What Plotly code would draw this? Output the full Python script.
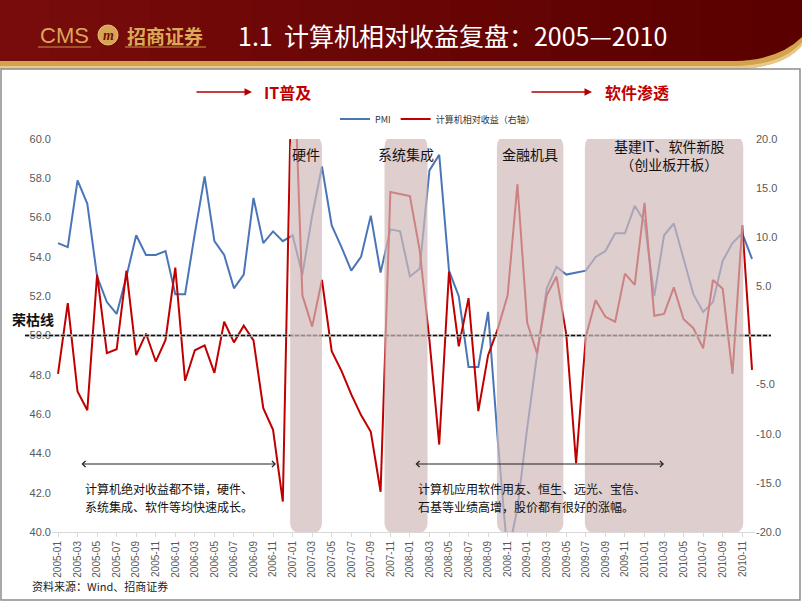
import plotly.graph_objects as go

# ---------------- data ----------------
months = [f"{y}-{m:02d}" for y in range(2005, 2011) for m in range(1, 13)]

pmi = [54.7, 54.5, 57.9, 56.7, 53.0, 51.7, 51.1, 53.0, 55.1, 54.1, 54.1, 54.3,
       52.1, 52.1, 55.2, 58.1, 54.8, 54.1, 52.4, 53.1, 57.0, 54.7, 55.3, 54.8,
       55.1, 53.1, 56.1, 58.6, 55.6, 54.5, 53.3, 54.0, 56.1, 53.2, 55.4, 55.3,
       53.0, 53.4, 58.4, 59.2, 53.3, 52.0, 48.4, 48.4, 51.2, 44.6, 38.8, 41.2,
       45.3, 49.0, 52.4, 53.5, 53.1, 53.2, 53.3, 54.0, 54.3, 55.2, 55.2, 56.6,
       55.8, 52.0, 55.1, 55.7, 53.9, 52.1, 51.2, 51.7, 53.8, 54.7, 55.2, 53.9]

rel_ret = [-3.9, 3.3, -5.7, -7.6, 6.2, -1.8, -1.4, 6.6, -2.0, 0.2, -2.65, -0.45,
           6.9, -4.6, -1.5, -1.0, -3.8, 1.4, -0.7, 1.0, -0.5, -7.4, -9.6, -16.9,
           32.0, 4.1, 0.9, 5.65, -1.6, -3.6, -6.0, -8.1, -9.8, -15.9, 14.6, 14.4,
           14.2, 8.7, -0.5, -11.1, 6.5, -1.1, 3.8, -7.7, -2.0, 0.7, 4.1, 15.4,
           1.3, -1.8, 4.1, 6.0, 0.1, -13.0, -0.1, 3.6, 1.9, 1.4, 6.3, 5.15,
           13.5, 2.0, 2.2, 4.9, 1.65, 0.74, -1.3, 5.65, 4.75, -3.9, 11.25, -3.5]

left_ticks = [40, 42, 44, 46, 48, 50, 52, 54, 56, 58, 60]
right_ticks = [-20, -15, -10, -5, 5, 10, 15, 20]

# shaded phases: (start index, end index, label)
phase_start = [23.75, 33.4, 44.9, 53.9]
phase_end = [27.0, 37.8, 51.7, 70.1]
phase_label = ["硬件", "系统集成", "金融机具", "基建IT、软件新股<br>（创业板开板）"]

note_left = ["计算机绝对收益都不错，硬件、", "系统集成、软件等均快速成长。"]
note_right = ["计算机应用软件用友、恒生、远光、宝信、", "石基等业绩高增，股价都有很好的涨幅。"]

# ---------------- geometry helpers ----------------
W, H = 802, 602
L, R, T, B = 52, 755, 139, 532
PW, PH = R - L, B - T
PXM = 9.775  # pixels per month


def px(X):
    return (X - L) / PW


def py(Y):
    return (B - Y) / PH


x_lo = -(58 - L) / PXM
x_hi = x_lo + PW / PXM
xidx = list(range(len(months)))

fig = go.Figure()
fig.add_trace(go.Scatter(x=xidx, y=pmi, name="PMI", mode="lines",
                         line=dict(color="#4a76b8", width=2)))
fig.add_trace(go.Scatter(x=xidx, y=rel_ret, name="计算机相对收益（右轴）", mode="lines",
                         line=dict(color="#c00000", width=2), yaxis="y2"))

shapes = []
n = 16
for i in range(n):
    t = i / (n - 1)
    r = int(120 - 30 * t)
    g = int(12 - 12 * t)
    shapes.append(dict(type="rect", xref="paper", yref="paper",
                       x0=px(i * W / n), x1=px((i + 1) * W / n + 1),
                       y0=py(0), y1=py(64), fillcolor=f"rgb({r},{g},{g})",
                       line=dict(width=0), layer="below"))


def ppath(pts):
    s = ""
    for c in pts:
        if c[0] == "Z":
            s += "Z"
        elif c[0] == "Q":
            s += f"Q{px(c[1]):.5f},{py(c[2]):.5f} {px(c[3]):.5f},{py(c[4]):.5f} "
        else:
            s += f"{c[0]}{px(c[1]):.5f},{py(c[2]):.5f} "
    return s


shapes.append(dict(type="path", xref="paper", yref="paper", layer="below",
                   path=ppath([("M", 730, 72), ("Q", 785, 66, 803, 44), ("L", 803, 72), ("Z",)]),
                   fillcolor="white", line=dict(width=0)))
shapes.append(dict(type="path", xref="paper", yref="paper", layer="below",
                   path=ppath([("M", -1, 61), ("L", 735, 61), ("Q", 780, 60, 803, 36),
                               ("L", 803, 44), ("Q", 785, 68, 735, 69), ("L", -1, 69), ("Z",)]),
                   fillcolor="#d2a24e", line=dict(width=0)))
shapes.append(dict(type="path", xref="paper", yref="paper", layer="below",
                   path=ppath([("M", -1, 66), ("L", 735, 66), ("Q", 783, 65, 803, 41),
                               ("L", 803, 44), ("Q", 785, 68, 735, 69), ("L", -1, 69), ("Z",)]),
                   fillcolor="#e9c98a", line=dict(width=0)))
shapes.append(dict(type="line", xref="paper", yref="paper", x0=px(38), x1=px(91),
                   y0=py(47), y1=py(47), line=dict(color="#c8964a", width=1)))
shapes.append(dict(type="line", xref="paper", yref="paper", x0=px(125), x1=px(206),
                   y0=py(47), y1=py(47), line=dict(color="#c8964a", width=1)))
shapes.append(dict(type="circle", xref="paper", yref="paper", x0=px(98), x1=px(118),
                   y0=py(25), y1=py(45), fillcolor="#d6a455", line=dict(color="#e8c27a", width=1)))
shapes.append(dict(type="rect", xref="paper", yref="paper", x0=px(1), x1=px(800),
                   y0=py(69), y1=py(600), line=dict(color="#8c8c8c", width=1.5),
                   fillcolor="rgba(0,0,0,0)", layer="below"))
shapes.append(dict(type="line", xref="paper", yref="y", x0=px(25), x1=px(771), y0=50, y1=50,
                   line=dict(color="#bfbfbf", width=2.5), layer="above"))
shapes.append(dict(type="line", xref="paper", yref="y", x0=px(25), x1=px(771), y0=50, y1=50,
                   line=dict(color="#111111", width=1.3, dash="4px,2px"), layer="above"))

for xs, xe in zip(phase_start, phase_end):
    rx, ry = 1.1, 0.55
    yt, yb = 60.15, 39.95
    p = (f"M{xs + rx},{yt} L{xe - rx},{yt} Q{xe},{yt} {xe},{yt - ry} "
         f"L{xe},{yb + ry} Q{xe},{yb} {xe - rx},{yb} L{xs + rx},{yb} "
         f"Q{xs},{yb} {xs},{yb + ry} L{xs},{yt - ry} Q{xs},{yt} {xs + rx},{yt} Z")
    shapes.append(dict(type="path", xref="x", yref="y", path=p, layer="above",
                       fillcolor="rgb(210,185,185)", opacity=0.7, line=dict(width=0)))

cjk = "Noto Sans CJK SC"
ann = []
ann.append(dict(x=px(38), y=py(35), xref="paper", yref="paper", xanchor="left", yanchor="middle",
                text="CMS", showarrow=False, font=dict(family="Liberation Sans", size=22, color="#d9a957")))
ann.append(dict(x=px(108), y=py(35), xref="paper", yref="paper", xanchor="center", yanchor="middle",
                text="<i><b>m</b></i>", showarrow=False, font=dict(family="Liberation Serif", size=14, color="#7a0a0a")))
ann.append(dict(x=px(125), y=py(35), xref="paper", yref="paper", xanchor="left", yanchor="middle",
                text="<b>招商证券</b>", showarrow=False, font=dict(family=cjk, size=19, color="#d9a957")))
ann.append(dict(x=px(236), y=py(35), xref="paper", yref="paper", xanchor="left", yanchor="middle",
                text="1.1  计算机相对收益复盘：2005—2010", showarrow=False,
                font=dict(family=cjk, size=25, color="white")))
for xh, xt, lab, xl in [(252, 195, "IT普及", 262), (592, 530, "软件渗透", 603)]:
    ann.append(dict(x=px(xh), y=py(92), xref="paper", yref="paper", ax=xt - xh, ay=0,
                    text="", showarrow=True, arrowhead=2, arrowsize=1, arrowwidth=1.5,
                    arrowcolor="#b00000"))
    ann.append(dict(x=px(xl), y=py(92), xref="paper", yref="paper", xanchor="left", yanchor="middle",
                    text=f"<b>{lab}</b>", showarrow=False, font=dict(family=cjk, size=16, color="#c00000")))
ann.append(dict(x=px(10), y=py(319), xref="paper", yref="paper", xanchor="left", yanchor="middle",
                text="<b>荣枯线</b>", showarrow=False, font=dict(family=cjk, size=14, color="#111111")))
for xs, xe, lab in zip(phase_start, phase_end, phase_label):
    two = "<br>" in lab
    ann.append(dict(x=(xs + xe) / 2 + (0.6 if two else 0), y=py(155 if two else 154), xref="x", yref="paper",
                    xanchor="center", yanchor="middle", text=lab, showarrow=False,
                    font=dict(family=cjk, size=14, color="#111111")))
for xa, xb in [(80, 276), (414, 664)]:
    ann.append(dict(x=px(xb), y=py(464), xref="paper", yref="paper", ax=xa - xb, ay=0,
                    text="", showarrow=True, arrowhead=4, startarrowhead=4, arrowside="end+start",
                    arrowsize=1, startarrowsize=1, arrowwidth=1.2, arrowcolor="#222222"))
for xl, lines in [(83, note_left), (416, note_right)]:
    for k, line in enumerate(lines):
        ann.append(dict(x=px(xl), y=py(488 + 18 * k), xref="paper", yref="paper", xanchor="left",
                        yanchor="middle", text=line, showarrow=False,
                        font=dict(family=cjk, size=12, color="#111111")))
ann.append(dict(x=px(30), y=py(586), xref="paper", yref="paper", xanchor="left", yanchor="middle",
                text="资料来源：Wind、招商证券", showarrow=False,
                font=dict(family=cjk, size=11, color="#222222")))

fig.update_layout(
    width=W, height=H,
    margin=dict(l=L, r=W - R, t=T, b=H - B, pad=0),
    paper_bgcolor="white", plot_bgcolor="white",
    showlegend=True,
    legend=dict(orientation="h", x=px(335), y=py(119), xanchor="left", yanchor="middle",
                font=dict(family=cjk, size=9, color="#333333"), itemwidth=30,
                bgcolor="rgba(0,0,0,0)", tracegroupgap=0),
    xaxis=dict(range=[x_lo, x_hi], tickmode="array", tickvals=xidx[::2], ticktext=months[::2],
               tickangle=-90, tickfont=dict(family="Liberation Sans", size=10, color="#595959"),
               showgrid=False, zeroline=False, showline=True, linecolor="#d9d9d9", linewidth=1,
               ticks="outside", ticklen=4, tickcolor="#d9d9d9"),
    yaxis=dict(range=[40, 60], tickmode="array", tickvals=left_ticks,
               ticktext=[f"{v:.1f}" for v in left_ticks], showgrid=False, zeroline=False,
               showline=False, tickfont=dict(family="Liberation Sans", size=11, color="#595959")),
    yaxis2=dict(range=[-20, 20], overlaying="y", side="right", tickmode="array", tickvals=right_ticks,
                ticktext=[f"{v:.1f}" for v in right_ticks], showgrid=False, zeroline=False,
                showline=False, tickfont=dict(family="Liberation Sans", size=11, color="#595959")),
    shapes=shapes, annotations=ann,
)

fig.write_html("out.html", config={"displayModeBar": False},
               post_script="document.body.style.margin='0';document.body.style.overflow='hidden';")
